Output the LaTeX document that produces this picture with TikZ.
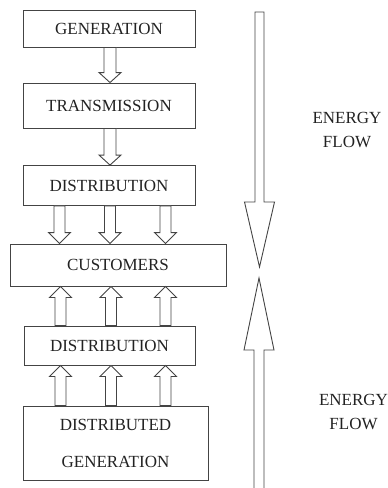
\documentclass[tikz,border=0pt]{standalone}
\usepackage{fontspec}
\setmainfont{Liberation Serif}
\usetikzlibrary{calc}
\definecolor{ink}{HTML}{222222}
\definecolor{edge}{HTML}{444444}
\tikzset{
  box/.style={draw=edge, line width=0.9pt, text=ink, font=\fontsize{17}{37}\selectfont, align=center, inner sep=0pt},
  blk/.style={draw=edge, line width=0.9pt, fill=white, line join=miter},
  flowlabel/.style={text=ink, font=\fontsize{17}{24}\selectfont, align=center, inner sep=0pt}
}
\newcommand\barr[5]{%
  \draw[blk] let \p1=(#1), \p2=(#2), \p3=($(#2)!#5pt!(#1)$) in
    (\x1-#3pt,\y1) -- (\x1-#3pt,\y3) -- (\x1-#4pt,\y3) -- (\x1,\y2) --
    (\x1+#4pt,\y3) -- (\x1+#3pt,\y3) -- (\x1+#3pt,\y1) -- cycle;}
\begin{document}
\begin{tikzpicture}[x=1pt,y=-1pt]
\useasboundingbox (0,0) rectangle (388,488);
% boxes
\node[box, minimum width=172pt, minimum height=37pt] (gen)   at (109,28.5) {GENERATION};
\node[box, minimum width=172pt, minimum height=45pt] (trans) at (109,105.5) {TRANSMISSION};
\node[box, minimum width=172pt, minimum height=40pt] (dist1) at (109,185.5) {DISTRIBUTION};
\node[box, minimum width=216pt, minimum height=42pt] (cust)  at (118,265) {CUSTOMERS};
\node[box, minimum width=171pt, minimum height=39pt] (dist2) at (109.5,345.5) {DISTRIBUTION};
\node[box, minimum width=185pt, minimum height=74pt] (dg)    at (115.5,443) {DISTRIBUTED\\GENERATION};
% labels
\node[flowlabel] (ef1) at (347,130) {ENERGY\\FLOW};
\node[flowlabel] (ef2) at (353.5,412) {ENERGY\\FLOW};
% arrow columns
\coordinate (m)  at (110,0);
\coordinate (a1) at (59.5,0);
\coordinate (a2) at (110,0);
\coordinate (a3) at (165.5,0);
\coordinate (b1) at (60.5,0);
\coordinate (b2) at (111,0);
\coordinate (b3) at (165.5,0);
% block arrows between boxes
\barr{m |- gen.south}{m |- trans.north}{6}{11}{10}
\barr{m |- trans.south}{m |- dist1.north}{6}{11}{10}
\foreach \c in {a1,a2,a3}{\barr{\c |- dist1.south}{\c |- cust.north}{5.5}{11}{11}}
\foreach \c in {b1,b2,b3}{\barr{\c |- dist2.north}{\c |- cust.south}{5.5}{11}{11}}
\foreach \c in {b1,b2,b3}{\barr{\c |- dg.north}{\c |- dist2.south}{5.5}{11}{11}}
% big energy-flow arrows
\coordinate (dtop) at (259.5,12);
\coordinate (dtip) at (259.5,267);
\coordinate (utip) at (259,278);
\coordinate (ubot) at (259,488);
\barr{dtop}{dtip}{4.5}{15}{65}
\draw[blk] (254,488) -- (254,350) -- (244,350) -- (utip) -- (274,350) -- (264,350) -- (264,488);
\end{tikzpicture}
\end{document}
